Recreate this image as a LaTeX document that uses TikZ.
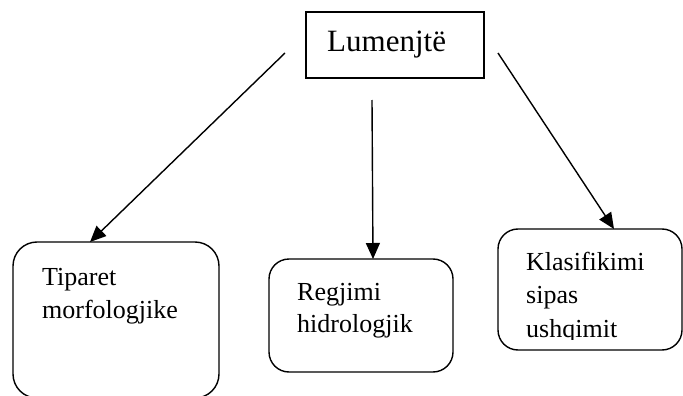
\documentclass[tikz,border=0pt]{standalone}
\usepackage{fontspec}
\setmainfont{Liberation Serif}
\usetikzlibrary{arrows.meta}
\tikzset{
  boxline/.style={draw=black, line width=1.4pt},
  rbox/.style={boxline, rounded corners=#1, anchor=north west, inner sep=0pt, outer sep=0pt},
  lbl/.style={anchor=base west, inner sep=0pt, font=\fontsize{26}{33}\selectfont},
  ttl/.style={anchor=base west, inner sep=0pt, font=\fontsize{31}{36}\selectfont},
  conn/.style={line width=1.4pt, -{Triangle[length=16pt,width=14pt]}}
}
\begin{document}
\begin{tikzpicture}[x=1pt,y=-1pt]
\useasboundingbox (0,0) rectangle (683,396);
% top box
\node[boxline, anchor=north west, minimum width=178pt, minimum height=66pt, inner sep=0pt, outer sep=0pt] (top) at (306,12) {};
\node[ttl] (ttext) at (327,52) {Lumenjtë};
% bottom boxes
\node[rbox=24pt, minimum width=206pt, minimum height=156pt] (lbox) at (13,242) {};
\node[rbox=20pt, minimum width=184pt, minimum height=113pt] (mbox) at (269,259) {};
\node[rbox=20pt, minimum width=184pt, minimum height=121pt] (rbox) at (498,229) {};
% texts
\node[lbl] (l1) at (42,285) {Tiparet};
\node[lbl] (l2) at (42,318) {morfologjike};
\node[lbl] (m1) at (297,300) {Regjimi};
\node[lbl] (m2) at (297,332) {hidrologjik};
\node[lbl] (r1) at (526,270) {Klasifikimi};
\node[lbl] (r2) at (526,303) {sipas};
\begin{scope}
\clip (500,310) rectangle (680,339);
\node[lbl] (r3) at (526,337) {ushqimit};
\end{scope}
% connector ends
\coordinate (s1) at (285,53);
\coordinate (s2) at (372,100);
\coordinate (s3) at (498,53);
\coordinate (e1) at (lbox.north west -| 90,0);
\coordinate (e2) at (mbox.north west -| 373,0);
\coordinate (e3) at (rbox.north west -| 614,0);
\draw[conn] (s1) -- (e1);
\draw[conn] (s2) -- (e2);
\draw[conn] (s3) -- (e3);
\end{tikzpicture}
\end{document}
